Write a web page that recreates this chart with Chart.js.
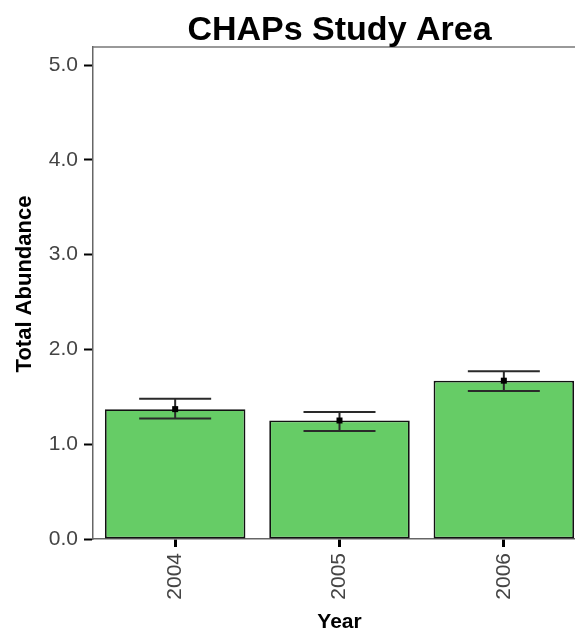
<!DOCTYPE html>
<html>
<head>
<meta charset="utf-8">
<script src="https://cdn.jsdelivr.net/npm/chart.js@4.4.1/dist/chart.umd.min.js"></script>
<style>
  html, body { margin: 0; padding: 0; background: #fff; overflow: hidden; }
</style>
</head>
<body>
<canvas id="chart" width="586" height="635"></canvas>
<script>
const years = ["2004", "2005", "2006"];
const abundance = [1.37, 1.25, 1.67];
const errUpper = [1.48, 1.34, 1.77];
const errLower = [1.27, 1.14, 1.56];
const yTicks = [0, 1, 2, 3, 4, 5];

const barColor = "#66cc66";
const FONT = "'Liberation Sans', Arial, sans-serif";

// title, y title, frame line on top, error bars + mean markers
const extras = {
  id: "extras",
  afterDatasetsDraw(chart) {
    const { ctx, chartArea, scales } = chart;
    const x = scales.x, y = scales.y;
    ctx.save();
    ctx.strokeStyle = "#2a2a2a";
    ctx.lineWidth = 2;
    years.forEach((yr, i) => {
      const cx = x.getPixelForValue(i);
      const hi = y.getPixelForValue(errUpper[i]);
      const lo = y.getPixelForValue(errLower[i]);
      const half = 36;
      ctx.beginPath();
      ctx.moveTo(cx, hi); ctx.lineTo(cx, lo);
      ctx.moveTo(cx - half, hi); ctx.lineTo(cx + half, hi);
      ctx.moveTo(cx - half, lo); ctx.lineTo(cx + half, lo);
      ctx.stroke();
      const my = y.getPixelForValue(abundance[i]);
      ctx.fillStyle = "#000";
      ctx.fillRect(cx - 3, my - 3, 6, 6);
    });
    ctx.strokeStyle = "#777";
    ctx.lineWidth = 1.5;
    ctx.beginPath();
    ctx.moveTo(chartArea.left, chartArea.top);
    ctx.lineTo(chartArea.right, chartArea.top);
    ctx.stroke();

    ctx.fillStyle = "#000";
    ctx.font = "bold 34px " + FONT;
    ctx.textAlign = "center";
    ctx.textBaseline = "alphabetic";
    ctx.fillText("CHAPs Study Area", (chartArea.left + chartArea.right) / 2, 40);

    ctx.font = "bold 22px " + FONT;
    ctx.textBaseline = "middle";
    ctx.translate(25, (chartArea.top + chartArea.bottom) / 2 - 9);
    ctx.rotate(-Math.PI / 2);
    ctx.fillText("Total Abundance", 0, 0);
    ctx.restore();
  }
};

new Chart(document.getElementById("chart"), {
  type: "bar",
  data: {
    labels: years,
    datasets: [{
      label: "Total Abundance",
      data: abundance,
      backgroundColor: barColor,
      borderColor: "#111",
      borderWidth: 1.8,
      borderSkipped: false,
      barPercentage: 0.855,
      categoryPercentage: 1.0
    }]
  },
  options: {
    responsive: false,
    animation: false,
    layout: { padding: { top: 47, right: 0, left: 0, bottom: 0 } },
    plugins: {
      legend: { display: false },
      tooltip: { enabled: false }
    },
    scales: {
      x: {
        grid: { display: true, offset: false, drawOnChartArea: false, tickLength: 8, tickWidth: 3, tickColor: "#000" },
        border: { display: true, color: "#666", width: 1.5 },
        ticks: {
          minRotation: 90, maxRotation: 90, padding: 6,
          color: "#444", font: { family: FONT, size: 21 }
        },
        title: {
          display: true, text: "Year", color: "#000",
          font: { family: FONT, size: 21, weight: "bold" }, padding: { top: 2, bottom: 0 }
        },
        afterFit(scale) { scale.height = 96; }
      },
      y: {
        min: 0,
        max: 5.19,
        afterBuildTicks(scale) { scale.ticks = yTicks.map(v => ({ value: v })); },
        grid: { display: true, drawOnChartArea: false, tickLength: 9, tickWidth: 2, tickColor: "#000" },
        border: { display: true, color: "#666", width: 1.5 },
        ticks: {
          padding: 6, color: "#444",
          font: { family: FONT, size: 21 },
          callback: v => Number(v).toFixed(1)
        },
        afterFit(scale) { scale.width = 93; }
      }
    }
  },
  plugins: [extras]
});
</script>
</body>
</html>
